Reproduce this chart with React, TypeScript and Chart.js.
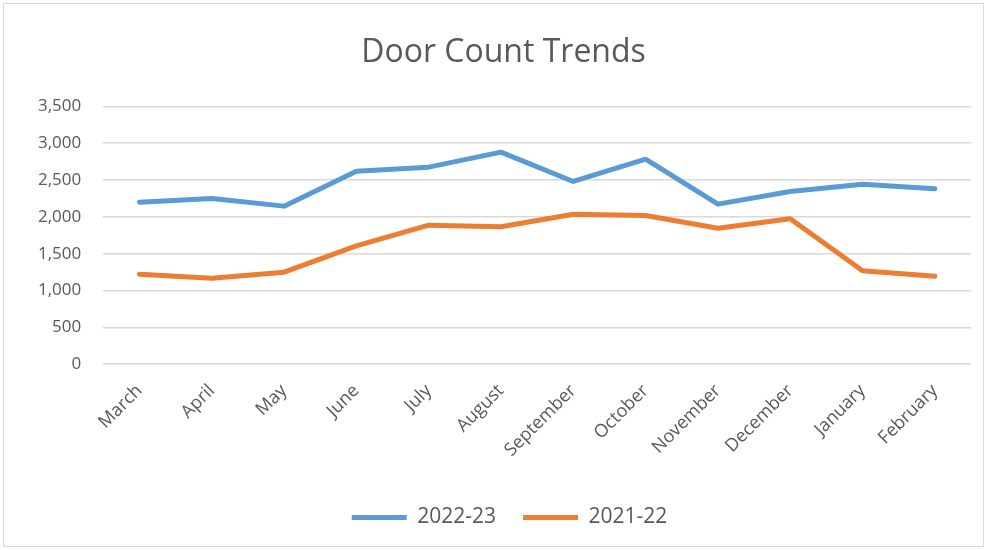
import React, { useEffect, useRef } from "react";
import { Chart, registerables } from "chart.js";

Chart.register(...registerables);

const months = ["March", "April", "May", "June", "July", "August", "September", "October", "November", "December", "January", "February"];
const series2223 = [2200, 2250, 2146, 2621, 2675, 2879, 2481, 2784, 2173, 2345, 2444, 2382];
const series2122 = [1222, 1167, 1249, 1607, 1887, 1865, 2037, 2019, 1846, 1974, 1268, 1194];
const yTicks = [0, 500, 1000, 1500, 2000, 2500, 3000, 3500];

const FONT = "'Open Sans', sans-serif";
const TEXT = "#595959";

const shiftPlugin = {
  id: "shiftBoxes",
  afterLayout(chart: any) {
    if (chart.legend) { chart.legend.left += 16; chart.legend.right += 16; }
    if (chart.titleBlock) { chart.titleBlock.left += 10; chart.titleBlock.right += 10; }
  },
};

export default function App() {
  const ref = useRef<HTMLCanvasElement>(null);
  useEffect(() => {
    const chart = new Chart(ref.current!, {
      type: "line",
      data: {
        labels: months,
        datasets: [
          { label: "2022-23", data: series2223, borderColor: "#5B9BD5", backgroundColor: "#5B9BD5", borderWidth: 5, pointRadius: 0, tension: 0, borderCapStyle: "round", borderJoinStyle: "round" },
          { label: "2021-22", data: series2122, borderColor: "#ED7D31", backgroundColor: "#ED7D31", borderWidth: 5, pointRadius: 0, tension: 0, borderCapStyle: "round", borderJoinStyle: "round" },
        ],
      },
      plugins: [shiftPlugin],
      options: {
        animation: false,
        responsive: false,
        layout: { padding: { left: 12, right: 12, top: 22, bottom: 8 } },
        plugins: {
          title: { display: true, text: "Door Count Trends", color: TEXT, font: { family: FONT, size: 32, weight: "normal" }, padding: { top: 8, bottom: 34 } },
          legend: {
            position: "bottom",
            labels: {
              usePointStyle: true,
              pointStyle: "line",
              pointStyleWidth: 55,
              color: TEXT,
              font: { family: FONT, size: 21 },
              padding: 27,
            },
          },
          tooltip: { enabled: false },
        },
        scales: {
          x: {
            offset: true,
            grid: { display: false },
            border: { display: false },
            afterFit: (s: any) => { s.height += 11; },
            ticks: { color: TEXT, font: { family: FONT, size: 18 }, minRotation: 45, maxRotation: 45, padding: 8 },
          },
          y: {
            min: 0,
            max: 3500,
            afterBuildTicks: (s: any) => { s.ticks = yTicks.map((v) => ({ value: v })); },
            grid: { color: "#d9d9d9", lineWidth: 1.5, drawTicks: false },
            border: { display: false },
            ticks: { color: TEXT, font: { family: FONT, size: 17 }, padding: 22, callback: (v: any) => Number(v).toLocaleString("en-US") },
          },
        },
      },
    });
    return () => chart.destroy();
  }, []);
  return (
    <div style={{ position: "absolute", left: 0, top: 0, width: 987, height: 550, background: "#fff" }}>
      <div style={{ position: "absolute", left: 3, top: 3, width: 981, height: 544, border: "1px solid #d9d9d9", boxSizing: "border-box" }}>
        <canvas ref={ref} width={979} height={542} />
      </div>
    </div>
  );
}
